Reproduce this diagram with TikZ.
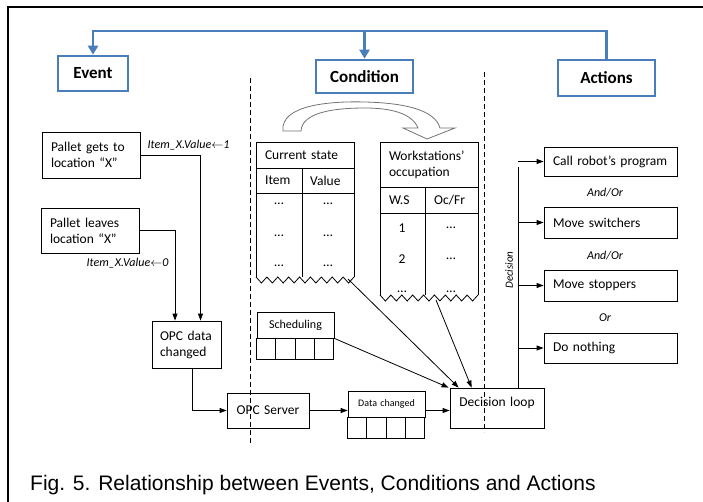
\documentclass[tikz,border=0pt]{standalone}
\usepackage{fontspec}
\setmainfont{Carlito}
\newfontfamily\capfont{Liberation Sans}
\usepackage{tikz}
\usetikzlibrary{arrows.meta}
\usetikzlibrary{calc}
\definecolor{ecablue}{RGB}{74,126,187}
\tikzstyle{ecabox}=[draw=ecablue, line width=2.6pt, fill=white, inner sep=0pt, font=\fontsize{17}{19}\selectfont\bfseries]
\tikzstyle{bluelink}=[draw=ecablue, line width=2.6pt]
\tikzstyle{plainbox}=[draw, line width=0.8pt, align=left, inner xsep=9pt, inner ysep=0pt, font=\fontsize{13.5}{16}\selectfont]
\tikzstyle{celltxt}=[inner sep=0pt, font=\fontsize{13.5}{16}\selectfont]
\tikzstyle{conn}=[line width=0.8pt, -{Triangle[length=7pt,width=5pt]}]
\tikzstyle{itlabel}=[inner sep=0pt, font=\fontsize{12}{14}\selectfont\itshape]
\tikzstyle{sepline}=[line width=0.7pt, dash pattern=on 5pt off 3pt]
\newcommand{\zigbottom}[3]{
	\draw[line width=0.8pt] (#1,#3) \foreach \k in {1,...,9} { -- ++(#2/18,6) -- ++(#2/18,-6) };
}

\begin{document}
\begin{tikzpicture}[x=1pt,y=-1pt]
	\useasboundingbox (0,0) rectangle (703,502);
	\draw[line width=2pt] (8,502) -- (8,7) -- (703,7);
	% Event / Condition / Actions
	\node[ecabox, minimum width=70pt, minimum height=35pt] (event) at (93,73.5) {Event};
	\node[ecabox, minimum width=97pt, minimum height=33pt] (cond) at (364.5,76.5) {Condition};
	\node[ecabox, minimum width=97pt, minimum height=36pt] (actions) at (606.5,78) {Actions};
	\coordinate (bluetop) at (0,31);
	\draw[bluelink, -{Triangle[length=9pt,width=10pt]}] (actions.north) -- (actions.north |- bluetop) -| (event.north);
	\draw[bluelink, -{Triangle[length=9pt,width=10pt]}] (cond.north |- bluetop) -- (cond.north);
	\draw[sepline] (250,78) -- (250,443);
	\draw[sepline] (484,72) -- (484,432);
	% events
	\node[plainbox, text width=80pt, minimum height=46pt] (ev1) at (91,155) {Pallet gets to\\location ``X''};
	\node[plainbox, text width=80pt, minimum height=45pt] (ev2) at (90,230.5) {Pallet leaves\\location ``X''};
	\node[plainbox, inner xsep=8pt, text width=53pt, minimum height=47pt] (opcdata) at (186.5,344.5) {OPC data\\changed};
	\node[itlabel] (lab1) at (188.5,145) {Item\_X.Value$\leftarrow$1};
	\node[itlabel] (lab0) at (127.5,263) {Item\_X.Value$\leftarrow$0};
	\draw[conn] (ev1.east) -| ([xshift=14pt]opcdata.north);
	\draw[conn] (ev2.east) -| ([xshift=-11.5pt]opcdata.north);
	\node[plainbox, align=center, inner xsep=8pt, text width=66pt, minimum height=35pt] (opcsrv) at (268,410.5) {OPC Server};
	\draw[conn] ([xshift=5.5pt]opcdata.south) |- (opcsrv.west);
	% data changed queue
	\node[plainbox, align=center, inner xsep=0pt, text width=77pt, minimum height=26pt, font=\fontsize{10}{12}\selectfont] (dchg) at (386.5,404) {Data changed};
	\foreach \i in {0,...,3}
		\draw[line width=0.8pt] (dchg.south west) ++(\i*19.25,0) rectangle ++(19.25,21);
	\node[plainbox, align=center, inner xsep=0pt, text width=94pt, minimum height=40pt, text depth=12pt] (dloop) at (497,408) {Decision loop};
	\draw[conn] (opcsrv.east) -- (opcsrv.east -| dchg.west);
	\draw[conn] (opcsrv.east -| dchg.east) -- (opcsrv.east -| dloop.west);
	% scheduling queue
	\node[plainbox, align=center, inner xsep=0pt, text width=77pt, minimum height=26pt, font=\fontsize{12}{14}\selectfont] (sched) at (295.5,325) {Scheduling};
	\foreach \i in {0,...,3}
		\draw[line width=0.8pt] (sched.south west) ++(\i*19.25,0) rectangle ++(19.25,21);
	% current state table
	\node[plainbox, text width=80pt, minimum height=26pt] (cstitle) at (305,155) {Current state};
	\draw[line width=0.8pt] (256,168) -- (256,277) (302,168) -- (302,277) (354,168) -- (354,277) (256,193) -- (354,193);
	\zigbottom{256}{98}{277}
	\node[celltxt, anchor=west] (csitem) at (265,180.5) {Item};
	\node[celltxt, anchor=west] (csvalue) at (310,180.5) {Value};
	\foreach \r/\yy in {1/204,2/236,3/266} {
		\node[celltxt] (csa\r) at (279,\yy) {\ldots};
		\node[celltxt] (csb\r) at (328,\yy) {\ldots};
	}
	% workstations table
	\node[plainbox, text width=80pt, minimum height=45pt] (wstitle) at (429,164.5) {Workstations'\\occupation};
	\draw[line width=0.8pt] (380,187) -- (380,295) (425,187) -- (425,295) (478,187) -- (478,295) (380,213) -- (478,213);
	\zigbottom{380}{98}{295}
	\node[celltxt, anchor=west] (wsws) at (389,200) {W.S};
	\node[celltxt, anchor=west] (wsoc) at (434,200) {Oc/Fr};
	\foreach \r/\yy/\t in {1/228/1,2/259/2,3/292/\ldots} {
		\node[celltxt] (wsa\r) at (402,\yy) {\t};
		\node[celltxt] (wsb\r) at (451,\yy) {\ldots};
	}
	% curved arrow between tables
	\draw[line width=0.8pt, draw=black!55, fill=white] (283,131) .. controls (280,105) and (330,101) .. (365,102) .. controls (405,103) and (435,110) .. (440,128) -- (455,128) -- (427,139) -- (403,128) -- (418,128) .. controls (412,113) and (390,108) .. (365,108) .. controls (335,108) and (302,112) .. (301,131) -- cycle;
	\coordinate (cszig) at (348,279);
	\coordinate (wszig) at (436,300);
	\draw[conn] (sched.south east) -- ([xshift=-1pt]dloop.north west);
	\draw[conn] (cszig) -- ([xshift=9pt]dloop.north west);
	\draw[conn] (wszig) -- ([xshift=22pt]dloop.north west);
	% actions
	\node[plainbox, text width=115pt, minimum height=29pt] (act1) at (610.5,161.5) {Call robot's program};
	\node[plainbox, text width=115pt, minimum height=31pt] (act2) at (610.5,222.5) {Move switchers};
	\node[plainbox, text width=115pt, minimum height=31pt] (act3) at (610.5,285.5) {Move stoppers};
	\node[plainbox, text width=115pt, minimum height=30pt] (act4) at (610.5,348) {Do nothing};
	\node[itlabel] (or1) at (605,193) {And/Or};
	\node[itlabel] (or2) at (605,256) {And/Or};
	\node[itlabel] (or3) at (605,318) {Or};
	\coordinate (dtop) at (518,167);
	\draw[line width=0.8pt] (dloop.north -| dtop) -- (dtop);
	\foreach \a in {act1,act2,act3,act4}
		\draw[conn] (dtop |- \a.west) -- (\a.west);
	\node[itlabel, rotate=90, font=\fontsize{11}{13}\selectfont\itshape] (decis) at (509,270) {Decision};
	\node[anchor=west, inner sep=0pt, font=\capfont\fontsize{21}{23}\selectfont] (caption) at (30,485) {Fig. 5. Relationship between Events, Conditions and Actions};
\end{tikzpicture}
\end{document}
